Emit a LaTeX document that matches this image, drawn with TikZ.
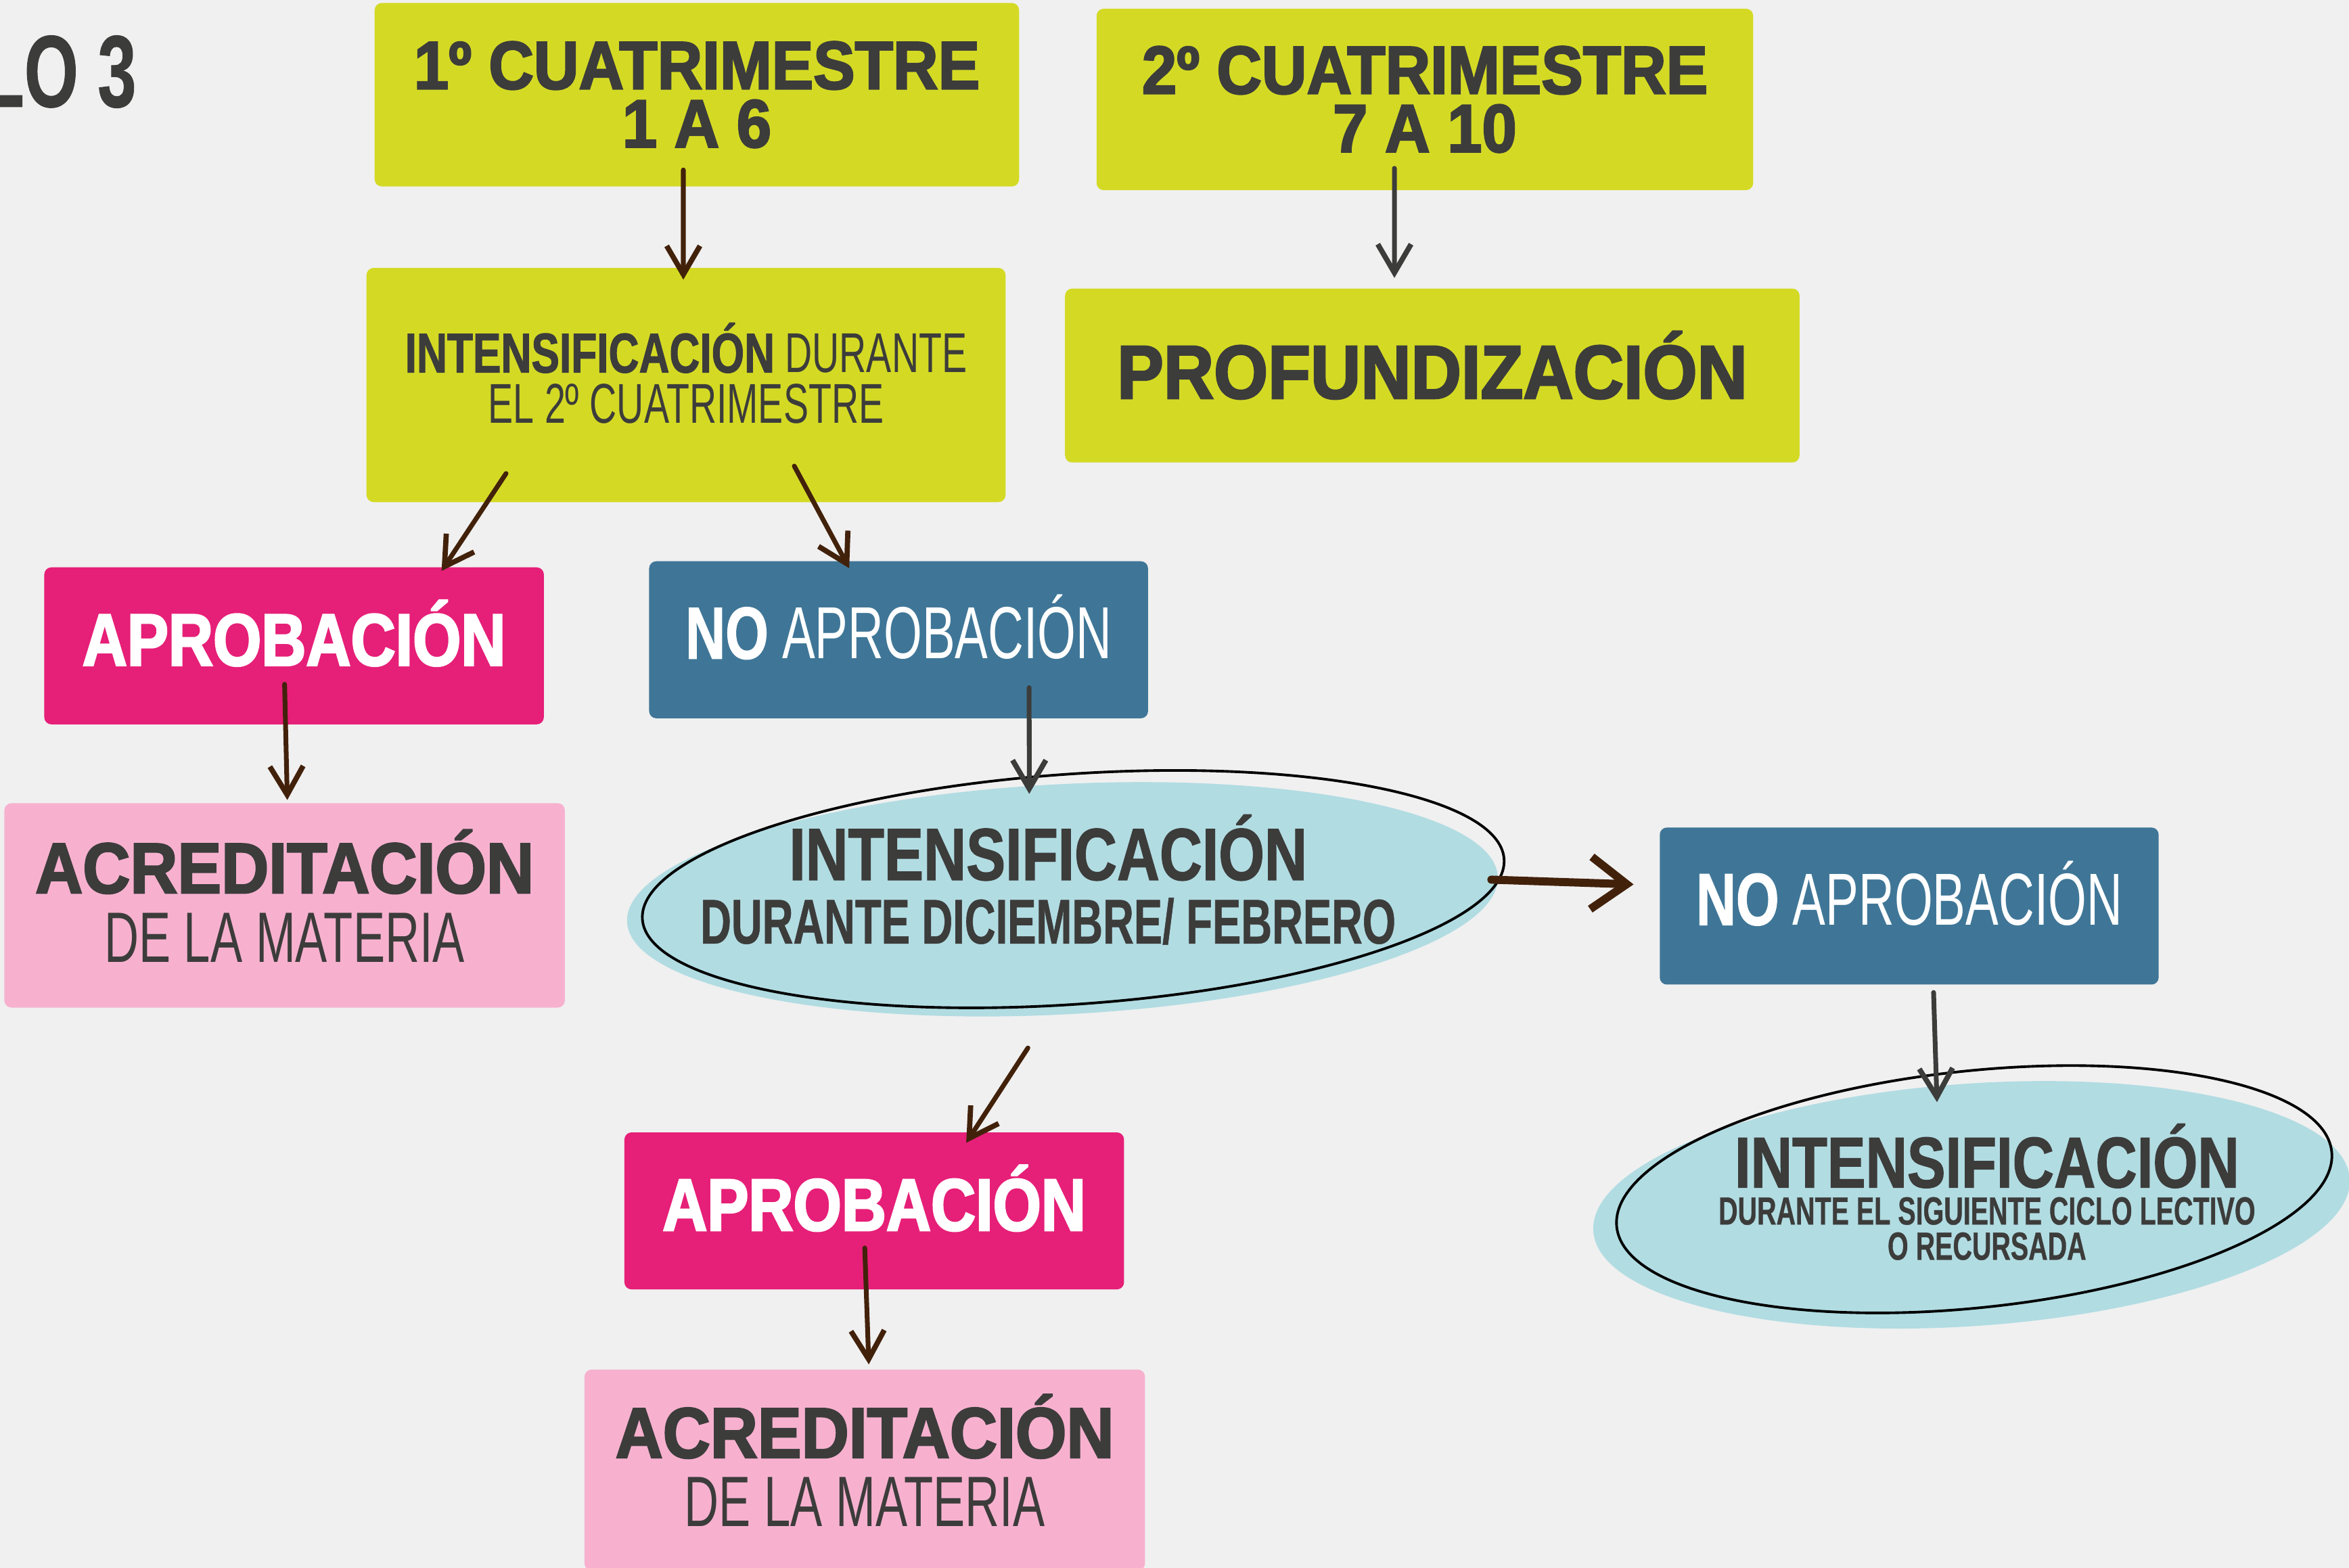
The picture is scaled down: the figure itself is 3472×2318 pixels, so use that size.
\documentclass[tikz,border=0pt]{standalone}
\usepackage{fontspec}
\usetikzlibrary{arrows.meta, positioning, calc, backgrounds}

\definecolor{lima}{HTML}{D4DA24}
\definecolor{fucsia}{HTML}{E61F78}
\definecolor{azul}{HTML}{3F7697}
\definecolor{rosa}{HTML}{F7B1CF}
\definecolor{celeste}{HTML}{B1DCE2}
\definecolor{tinta}{HTML}{3C3C3B}
\definecolor{marron}{HTML}{42210B}
\definecolor{fondo}{HTML}{F0F0F0}

\newfontfamily\fGruesa[FakeStretch=0.84, FakeBold=2.5]{Liberation Sans Bold}
\newfontfamily\fAncha[FakeStretch=0.92, FakeBold=2.5]{Liberation Sans Bold}
\newfontfamily\fEstrecha[FakeStretch=0.75, FakeBold=1.2]{Liberation Sans Bold}
\newfontfamily\fTitular[FakeStretch=0.80, FakeBold=1.2]{Liberation Sans Bold}
\newfontfamily\fFina[FakeStretch=0.67]{Liberation Sans}
\newfontfamily\fFinaN[FakeStretch=0.68, FakeBold=0.6]{Liberation Sans Bold}

\tikzset{
  caja/.style={rectangle, rounded corners=3pt, align=center, inner sep=0pt},
  verde/.style={caja, fill=lima, text=tinta},
  aprob/.style={caja, fill=fucsia, text=white, minimum width=7.38cm, minimum height=2.32cm,
    text depth=11pt, font=\fontsize{31pt}{31pt}\fGruesa},
  noaprob/.style={caja, fill=azul, text=white, minimum width=7.37cm, minimum height=2.32cm,
    text depth=11pt, font=\fontsize{31pt}{31pt}\fFina},
  acred/.style={caja, fill=rosa, text=tinta, minimum width=8.28cm, minimum height=3cm,
    text depth=8pt, font=\fontsize{30pt}{29pt}\fFina},
  nube/.style={align=center, inner sep=0pt, text=tinta},
  flecha/.style={draw=marron, line width=2pt, line cap=round,
    -{Straight Barb[length=12pt, width=14pt, line width=2.2pt]}},
  flechagris/.style={flecha, draw=tinta},
}

\begin{document}
\begin{tikzpicture}[x=0.01cm, y=-0.01cm]
  \useasboundingbox (0,0) rectangle (3472,2318);
  \clip (0,0) rectangle (3472,2318);

  \node (titulo) [anchor=east, text=tinta, font=\fontsize{43pt}{43pt}\fFinaN] at (214,106) {LO 3};

  \node (c1) [verde, minimum width=9.52cm, minimum height=2.71cm,
    font=\fontsize{28.5pt}{24.5pt}\fAncha] at (1030,140) {1º CUATRIMESTRE\\1 A 6};
  \node (c2) [verde, right=1.13cm of c1, yshift=-0.07cm, minimum width=9.70cm, minimum height=2.68cm,
    font=\fontsize{28.5pt}{24.5pt}\fAncha] {2º CUATRIMESTRE\\7 A 10};

  \node (int2) [verde, below=1.19cm of c1, xshift=-0.16cm, minimum width=9.44cm, minimum height=3.46cm,
    text depth=10pt, font=\fontsize{23.6pt}{21.4pt}\fFina] {{\fEstrecha INTENSIFICACIÓN} DURANTE\\EL 2º CUATRIMESTRE};
  \node (prof) [verde, below=1.44cm of c2, xshift=0.11cm, minimum width=10.85cm, minimum height=2.57cm,
    text depth=9pt, font=\fontsize{31.8pt}{31.8pt}\fAncha] {PROFUNDIZACIÓN};

  \node (ap1) [aprob, below=0.95cm of int2, xshift=-5.79cm] {APROBACIÓN};
  \node (noap1) [noaprob, below=0.86cm of int2, xshift=3.14cm] {{\fEstrecha NO} APROBACIÓN};
  \node (acr1) [acred, below=1.15cm of ap1, xshift=-0.14cm, minimum height=3.02cm]
    {{\fAncha ACREDITACIÓN}\\DE LA MATERIA};

  \node (int1) [nube, below=0.96cm of noap1, xshift=2.42cm, minimum width=12.88cm, minimum height=3.4cm,
    text depth=17pt, font=\fontsize{26.5pt}{26.7pt}\fFinaN]
    {{\fontsize{31pt}{26.7pt}\fTitular INTENSIFICACIÓN}\hspace*{12pt}\\DURANTE DICIEMBRE/ FEBRERO\hspace*{12pt}};
  \node (noap2) [noaprob, right=2.37cm of int1, yshift=-0.1cm] {{\fEstrecha NO} APROBACIÓN};
  \node (int3) [nube, below=1.45cm of noap2, xshift=0.92cm, minimum width=11.2cm, minimum height=3.58cm,
    text depth=11pt, font=\fontsize{16.5pt}{14.8pt}\fFinaN]
    {\hspace*{13pt}{\fontsize{30.2pt}{14.8pt}\fTitular INTENSIFICACIÓN}\\[0.8pt]\hspace*{13pt}DURANTE EL SIGUIENTE CICLO LECTIVO\\\hspace*{13pt}O RECURSADA};

  \node (ap2) [aprob, below=1.73cm of int1, xshift=-2.78cm] {APROBACIÓN};
  \node (acr2) [acred, below=1.17cm of ap2, xshift=-0.14cm, minimum height=2.97cm]
    {{\fAncha ACREDITACIÓN}\\DE LA MATERIA};

  \begin{scope}[on background layer]
    \fill[fondo] (0,0) rectangle (3472,2318);
    \fill[celeste] (int1.center) ellipse [x radius=6.44cm, y radius=1.7cm, rotate=3];
    \draw[line width=1.1pt] ($(int1.center)+(16,-15)$) ellipse [x radius=6.38cm, y radius=1.7cm, rotate=4];
    \fill[celeste] (int3.center) ellipse [x radius=5.6cm, y radius=1.79cm, rotate=4];
    \draw[line width=1.1pt] ($(int3.center)+(4,-23)$) ellipse [x radius=5.31cm, y radius=1.75cm, rotate=6];
  \end{scope}

  \draw[flecha] ($(c1.south)+(-20,-25)$) -- ($(int2.north)+(-4,18)$);
  \draw[flechagris] ($(c2.south)+(-45,-33)$) -- ($(prof.north)+(-56,-15)$);
  \draw[flecha] ($(int2.south)+(-266,-43)$) -- ($(ap1.north)+(218,6)$);
  \draw[flecha] ($(int2.south)+(160,-54)$) -- ($(noap1.north)+(-73,11)$);
  \draw[flecha] ($(ap1.south)+(-14,-60)$) -- ($(acr1.north)+(4,-4)$);
  \draw[flechagris] ($(noap1.south)+(193,-46)$) -- ($(int1.north)+(-49,15)$);
  \draw[flecha, line width=3.4pt, -{Straight Barb[length=15pt, width=22pt, line width=3.4pt]}]
    ($(int1.east)+(-11,-29)$) -- ($(noap2.west)+(-38,-32)$);
  \draw[flechagris] ($(noap2.south)+(36,11)$) -- ($(int3.north)+(-51,28)$);
  \draw[flecha] ($(int1.south)+(-51,49)$) -- ($(ap2.north)+(136,16)$);
  \draw[flecha] ($(ap2.south)+(-14,-62)$) -- ($(acr2.north)+(6,-7)$);
\end{tikzpicture}
\end{document}
